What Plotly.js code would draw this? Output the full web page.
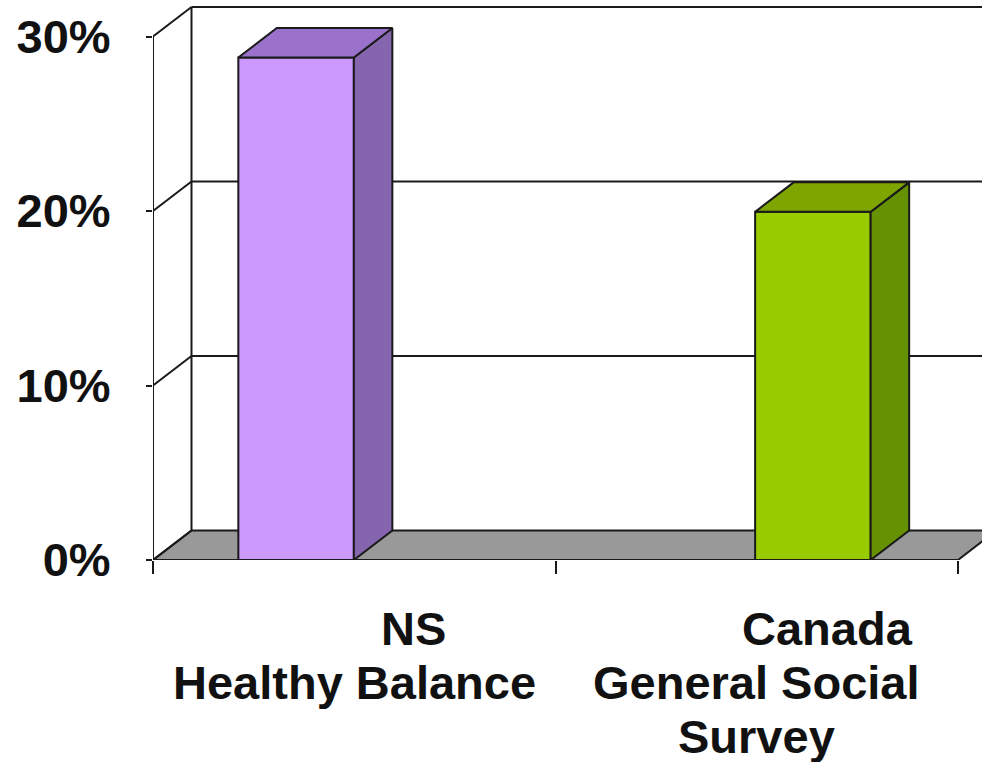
<!DOCTYPE html>
<html>
<head>
<meta charset="utf-8">
<script src="https://cdn.plot.ly/plotly-3.0.1.min.js"></script>
<style>html,body{margin:0;padding:0;background:#fff}#chart{width:982px;height:762px}</style>
</head>
<body>
<div id="chart"></div>
<script>
// Data
const seriesNames = ['NS Healthy Balance', 'Canada General Social Survey'];
const categoryCenters = [0.5, 1.5];
const seriesValues = [28.8, 19.95];
const yTicks = [0, 10, 20, 30];
const yTickLabels = ['0%', '10%', '20%', '30%'];
const xTickEdges = [0, 1, 2];
const labelLines = ['NS', 'Healthy Balance', 'Canada', 'General Social', 'Survey'];
const labelX = [0.646, 0.5, 1.675, 1.5, 1.5];
const labelRow = [0, 1, 0, 1, 2];

// Styles and geometry
const frontColors = ['#CC99FF', '#99CC00'];
const sideColors = ['#8566AE', '#669100'];
const topColors = ['#9A72CC', '#7FA600'];
const barOffsets = [-0.288, -0.004];
const barWidth = 0.287;
const pxPerX = 402.5, pxPerY = 17.45, H = 560;
const depthX = 38.5 / pxPerX, depthY = 29.5 / pxPerY;
const ink = '#1a1a1a';
const W = { width: 2, color: ink };
const xMax = (982 - 153) / pxPerX, yMax = H / pxPerY;
const rowTop = 628, rowGap = 54;

const traces = [];
seriesValues.forEach((v, i) => {
  const x0 = categoryCenters[i] + barOffsets[i], x1 = x0 + barWidth;
  traces.push({
    type: 'bar', name: seriesNames[i], x: [categoryCenters[i]], y: [v],
    offset: barOffsets[i], width: barWidth,
    marker: { color: frontColors[i], line: W }, showlegend: false, hoverinfo: 'y'
  });
  traces.push({
    type: 'scatter', mode: 'lines', fill: 'toself', fillcolor: sideColors[i], line: W,
    x: [x1, x1 + depthX, x1 + depthX, x1, x1], y: [0, depthY, v + depthY, v, 0],
    showlegend: false, hoverinfo: 'skip'
  });
  traces.push({
    type: 'scatter', mode: 'lines', fill: 'toself', fillcolor: topColors[i], line: W,
    x: [x0, x1, x1 + depthX, x0 + depthX, x0], y: [v, v, v + depthY, v + depthY, v],
    showlegend: false, hoverinfo: 'skip'
  });
});

const line = (x0, y0, x1, y1) => ({
  type: 'line', layer: 'below', xref: 'x', yref: 'y', x0, y0, x1, y1, line: W
});
const shapes = [
  { type: 'path', layer: 'below', xref: 'x', yref: 'y', fillcolor: '#999999', line: W,
    path: `M0,0 L${depthX},${depthY} L${2 + depthX},${depthY} L2,0 Z` },
  line(0, 0, 0, 30),
  line(depthX, depthY, depthX, 30 + depthY),
  line(0, 0, 2, 0)
];
yTicks.forEach(t => {
  shapes.push(line(0, t, depthX, t + depthY));
  if (t > 0) shapes.push(line(depthX, t + depthY, xMax, t + depthY));
});

const annotations = labelLines.map((s, i) => ({
  text: '<b>' + s + '</b>', xref: 'x', yref: 'paper', x: labelX[i],
  y: -(rowTop + labelRow[i] * rowGap - H) / H, xanchor: 'center', yanchor: 'middle',
  showarrow: false, font: { family: 'Liberation Sans, Arial, sans-serif', size: 47, color: '#111' }
}));

const layout = {
  width: 982, height: 762, margin: { l: 153, r: 0, t: 0, b: 202 },
  paper_bgcolor: '#fff', plot_bgcolor: '#fff', showlegend: false,
  barmode: 'overlay', shapes, annotations,
  xaxis: {
    range: [0, xMax], showgrid: false, zeroline: false, showline: false,
    tickmode: 'array', tickvals: xTickEdges, ticktext: xTickEdges.map(() => ''),
    ticks: 'outside', ticklen: 13, tickwidth: 2, tickcolor: ink
  },
  yaxis: {
    range: [0, yMax], showgrid: false, zeroline: false, showline: false,
    tickmode: 'array', tickvals: yTicks, ticktext: yTickLabels.map(s => '<b>' + s + '</b>'),
    ticks: 'outside', ticklen: 6, tickwidth: 2, tickcolor: ink, ticklabelstandoff: 26,
    tickfont: { family: 'Liberation Sans, Arial, sans-serif', size: 47, color: '#111' }
  }
};
Plotly.newPlot('chart', traces, layout, { displayModeBar: false, responsive: false });
</script>
</body>
</html>
